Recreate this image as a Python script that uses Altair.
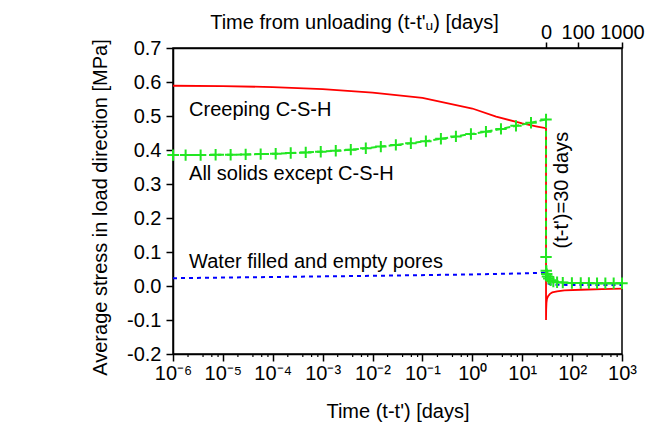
import altair as alt
import pandas as pd

# ---------------- data ----------------
red_t = [1e-6, 1e-5, 1e-4, 1e-3, 1e-2, 1e-1, 1, 3, 10, 20, 30,
         30, 30.2, 30.6, 31.3, 33, 36, 40, 50, 70, 150, 400, 1000]
red_v = [0.589, 0.588, 0.585, 0.579, 0.569, 0.553, 0.522, 0.498, 0.478, 0.469, 0.464,
         -0.100, -0.070, -0.050, -0.038, -0.030, -0.023, -0.019, -0.016, -0.013, -0.011, -0.009, -0.008]

green_t = [1e-6, 1.79e-6, 3.58e-6, 7.15e-6, 1.43e-5, 2.86e-5, 5.72e-5, 1.144e-4, 2.289e-4,
           4.578e-4, 9.155e-4, 1.831e-3, 3.662e-3, 7.324e-3, 1.465e-2, 2.93e-2, 5.859e-2,
           0.1172, 0.2344, 0.4688, 0.9375, 1.875, 3.75, 7.5, 15, 30,
           30, 30.3, 31, 32, 34, 37, 42, 50, 65, 99, 149, 217, 316, 464, 681, 1000]
green_v = [0.385, 0.385, 0.385, 0.386, 0.386, 0.387, 0.388, 0.389, 0.391, 0.393, 0.395,
           0.398, 0.401, 0.405, 0.410, 0.415, 0.420, 0.426, 0.433, 0.440, 0.447, 0.454,
           0.462, 0.471, 0.480, 0.490,
           0.085, 0.045, 0.035, 0.028, 0.022, 0.017, 0.013, 0.011, 0.010, 0.009, 0.009,
           0.009, 0.008, 0.008, 0.008, 0.008]

blue_t = [1e-6, 1e-4, 1e-2, 1, 10, 30, 30.5, 32, 40, 100, 1000]
blue_v = [0.023, 0.0265, 0.030, 0.034, 0.037, 0.039, 0.020, 0.008, 0.004, 0.003, 0.003]

x_tick_values = [1e-6, 1e-5, 1e-4, 1e-3, 1e-2, 1e-1, 1, 10, 100, 1000]
x_tick_labels = ["10⁻⁶", "10⁻⁵", "10⁻⁴", "10⁻³", "10⁻²", "10⁻¹", "10⁰", "10¹", "10²", "10³"]
minor_decades = [1e-6, 1e-5, 1e-4, 1e-3, 1e-2, 1e-1, 1, 10, 100]
minor_mults = [2, 4, 6, 8]
y_tick_values = [-0.2, -0.1, 0.0, 0.1, 0.2, 0.3, 0.4, 0.5, 0.6, 0.7]
y_tick_labels = ["-0.2", "-0.1", "0.0", "0.1", "0.2", "0.3", "0.4", "0.5", "0.6", "0.7"]
top_tick_values = [30, 130, 1000]
top_tick_labels = ["0", "100", "1000"]

ann_text = ["Creeping C-S-H", "All solids except C-S-H", "Water filled and empty pores"]
ann_t = [2.1e-6, 2.1e-6, 2.1e-6]
ann_v = [0.500, 0.312, 0.054]
vert_text = ["(t-t')=30 days"]
vert_t = [82.4]
vert_v = [0.282]

# ---------------- layout ----------------
W, H = 449, 306
FONT = "Liberation Sans"
FS = 20
RED, GREEN, BLUE = "#ff0000", "#22e622", "#0000ff"

red_df = pd.DataFrame({"t": red_t, "v": red_v, "i": list(range(len(red_t)))})
green_df = pd.DataFrame({"t": green_t, "v": green_v, "i": list(range(len(green_t)))})
blue_df = pd.DataFrame({"t": blue_t, "v": blue_v, "i": list(range(len(blue_t)))})
minor_df = pd.DataFrame({"t": [d * m for d in minor_decades for m in minor_mults]})
ann_df = pd.DataFrame({"t": ann_t, "v": ann_v, "label": ann_text})
vert_df = pd.DataFrame({"t": vert_t, "v": vert_v, "label": vert_text})


def arr(lst):
    return "[" + ",".join("'" + s + "'" for s in lst) + "]"


xscale = alt.Scale(type="log", domain=[1e-6, 1e3], nice=False)
yscale = alt.Scale(domain=[-0.2, 0.7], nice=False, zero=False)

x_bottom = alt.X(
    "t:Q", scale=xscale,
    axis=alt.Axis(orient="bottom", values=x_tick_values,
                  labelExpr=arr(x_tick_labels) + "[round(log(datum.value)/LN10)+6]",
                  tickSize=7, labelPadding=2, labelOverlap=False, labelFlush=False, labelBound=False,
                  title="Time (t-t') [days]", titleX=W / 2, titleY=63,
                  titleBaseline="alphabetic", titleAlign="center"))
x_top = alt.X(
    "t:Q", scale=xscale,
    axis=alt.Axis(orient="top", values=top_tick_values,
                  labelExpr=arr(top_tick_labels) + "[indexof(" + str(top_tick_values) + ", datum.value)]",
                  tickSize=6, labelPadding=0, labelOverlap=False, labelFlush=False, labelBound=False,
                  title="Time from unloading (t-t'ᵤ) [days]", titleX=181, titleY=-20,
                  titleBaseline="alphabetic", titleAlign="center"))
x_none = alt.X("t:Q", scale=xscale, axis=None)

y_main = alt.Y(
    "v:Q", scale=yscale,
    axis=alt.Axis(values=y_tick_values,
                  labelExpr=arr(y_tick_labels) + "[round(datum.value*10)+2]",
                  tickSize=7, labelPadding=5,
                  title="Average stress in load direction [MPa]", titleX=-67, titleY=159,
                  titleAngle=270, titleBaseline="alphabetic", titleAlign="center"))

red_line = alt.Chart(red_df).mark_line(color=RED, strokeWidth=1.8).encode(
    x=x_bottom, y=y_main, order="i:Q")
blue_line = alt.Chart(blue_df).mark_line(color=BLUE, strokeWidth=2, strokeDash=[4, 4]).encode(
    x=x_top, y=y_main, order="i:Q")
green_line = alt.Chart(green_df).mark_line(color=GREEN, strokeWidth=2, strokeDash=[6, 3]).encode(
    x=x_none, y=y_main, order="i:Q")
green_pts = alt.Chart(green_df).mark_point(
    shape="M-1,0L1,0M0,-1L0,1", filled=False, color=GREEN, strokeWidth=2, size=130, opacity=1
).encode(x=x_none, y=y_main)
minor = alt.Chart(minor_df).mark_rule(color="black", strokeWidth=1.2).encode(
    x=x_none, y=alt.value(H), y2=alt.value(H + 3))
ann = alt.Chart(ann_df).mark_text(
    align="left", baseline="alphabetic", font=FONT, fontSize=FS, color="black"
).encode(x=x_none, y=y_main, text="label:N")
vert = alt.Chart(vert_df).mark_text(
    align="center", baseline="alphabetic", angle=270, font=FONT, fontSize=FS, color="black"
).encode(x=x_none, y=y_main, text="label:N")

chart = alt.layer(red_line, blue_line, green_line, green_pts, minor, ann, vert).resolve_axis(
    x="independent"
).properties(
    width=W, height=H,
    autosize=alt.AutoSizeParams(type="none"),
    padding={"left": 165, "top": 40, "right": 28, "bottom": 70},
).configure_axis(
    labelFont=FONT, titleFont=FONT, labelFontSize=FS, titleFontSize=FS,
    labelColor="black", titleColor="black", domainColor="black", tickColor="black",
    titleFontWeight="normal", grid=False, domainWidth=1.5, tickWidth=1.5,
).configure_view(stroke="black", strokeWidth=1.5)

chart.save("out.html", embed_options={"renderer": "svg", "actions": False})
